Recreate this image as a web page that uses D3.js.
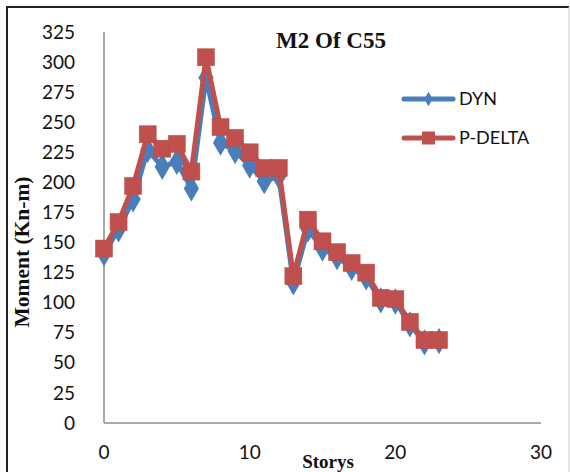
<!DOCTYPE html>
<html><head><meta charset="utf-8">
<script src="https://cdn.jsdelivr.net/npm/d3@7"></script>
<style>body{margin:0;background:#fff}svg{display:block}</style>
</head><body>
<script>
const stories = [0,1,2,3,4,5,6,7,8,9,10,11,12,13,14,15,16,17,18,19,20,21,22,23];
const dyn =    [141,161,186,227,213,217,195,287,233,226,214,201,205,117,161,145,138,129,121,102,101,82,67,68];
const pdelta = [145,167,197,240,228,232,209,304,246,237,225,212,212,122,169,151,142,133,125,104,103,84,69,69];
const yTicks = [0,25,50,75,100,125,150,175,200,225,250,275,300,325];
const xTicks = [0,10,20,30];
const seriesNames = ["DYN","P-DELTA"];

const W=570,H=472;
const svg=d3.select("body").append("svg").attr("width",W).attr("height",H);
svg.append("rect").attr("width",W).attr("height",H).attr("fill","#fff");
// frame
svg.append("line").attr("x1",7).attr("x2",569).attr("y1",7).attr("y2",7).attr("stroke","#222").attr("stroke-width",2);
svg.append("line").attr("x1",7).attr("x2",7).attr("y1",6).attr("y2",H).attr("stroke","#222").attr("stroke-width",2);
svg.append("line").attr("x1",569).attr("x2",569).attr("y1",7).attr("y2",H).attr("stroke","#ccc").attr("stroke-width",1);

const x=d3.scaleLinear().domain([0,30]).range([104,541]);
const y=d3.scaleLinear().domain([0,325]).range([423,32]);

// axes lines
svg.append("line").attr("x1",x(0)).attr("x2",x(30)).attr("y1",y(0)).attr("y2",y(0)).attr("stroke","#8c8c8c").attr("stroke-width",1.5);
svg.append("line").attr("x1",x(0)).attr("x2",x(0)).attr("y1",y(0)).attr("y2",y(325)).attr("stroke","#8c8c8c").attr("stroke-width",1.5);

const font="Lato, 'Open Sans', sans-serif";
svg.selectAll(".yt").data(yTicks).enter().append("text")
  .attr("x",75).attr("y",d=>y(d)).attr("dy","0.35em").attr("text-anchor","end")
  .attr("font-family",font).attr("font-size",19).attr("fill","#111").text(d=>d);
svg.selectAll(".xt").data(xTicks).enter().append("text")
  .attr("x",d=>x(d)).attr("y",452).attr("dy","0.35em").attr("text-anchor","middle")
  .attr("font-family",font).attr("font-size",19).attr("fill","#111").text(d=>d);

// titles
svg.append("text").attr("x",331).attr("y",48).attr("text-anchor","middle")
  .attr("font-family","'Liberation Serif', 'Times New Roman', serif").attr("font-weight","bold")
  .attr("font-size",23).attr("fill","#111").text("M2 Of C55");
svg.append("text").attr("x",328).attr("y",468).attr("text-anchor","middle")
  .attr("font-family","'Liberation Serif', serif").attr("font-weight","bold")
  .attr("font-size",19).attr("fill","#111").text("Storys");
svg.append("text").attr("transform","translate(29,252) rotate(-90)").attr("text-anchor","middle")
  .attr("font-family","'Liberation Serif', serif").attr("font-weight","bold")
  .attr("font-size",21.5).attr("fill","#111").text("Moment (Kn-m)");

const blue="#4a7ebb", red="#c0504d";
const line=d3.line().x((d,i)=>x(stories[i])).y(d=>y(d));
// DYN
svg.append("path").datum(dyn).attr("d",line).attr("fill","none").attr("stroke",blue).attr("stroke-width",5).attr("stroke-linejoin","round");
const dsym=d3.symbol().type(d3.symbolDiamond).size(200);
svg.selectAll(".dm").data(dyn).enter().append("path")
  .attr("transform",(d,i)=>`translate(${x(stories[i])},${y(d)})`).attr("d",dsym).attr("fill",blue);
// P-DELTA
svg.append("path").datum(pdelta).attr("d",line).attr("fill","none").attr("stroke",red).attr("stroke-width",5).attr("stroke-linejoin","round");
svg.selectAll(".sq").data(pdelta).enter().append("rect")
  .attr("x",(d,i)=>x(stories[i])-8.5).attr("y",d=>y(d)-8.5).attr("width",17).attr("height",17)
  .attr("fill",red).attr("stroke","#b54a47").attr("stroke-width",0.5);

// legend
const lg=svg.append("g");
const ly=[99,138];
lg.append("line").attr("x1",404).attr("x2",453).attr("y1",ly[0]).attr("y2",ly[0]).attr("stroke",blue).attr("stroke-width",5).attr("stroke-linecap","round");
lg.append("path").attr("transform",`translate(428.5,${ly[0]})`).attr("d",d3.symbol().type(d3.symbolDiamond).size(60)).attr("fill",blue);
lg.append("line").attr("x1",404).attr("x2",453).attr("y1",ly[1]).attr("y2",ly[1]).attr("stroke",red).attr("stroke-width",5).attr("stroke-linecap","round");
lg.append("rect").attr("x",422).attr("y",ly[1]-6.5).attr("width",13).attr("height",13).attr("fill",red);
lg.selectAll(".lt").data(seriesNames).enter().append("text")
  .attr("x",459).attr("y",(d,i)=>ly[i]).attr("dy","0.35em")
  .attr("font-family",font).attr("font-size",18).attr("fill","#111").text(d=>d);
</script>
</body></html>
